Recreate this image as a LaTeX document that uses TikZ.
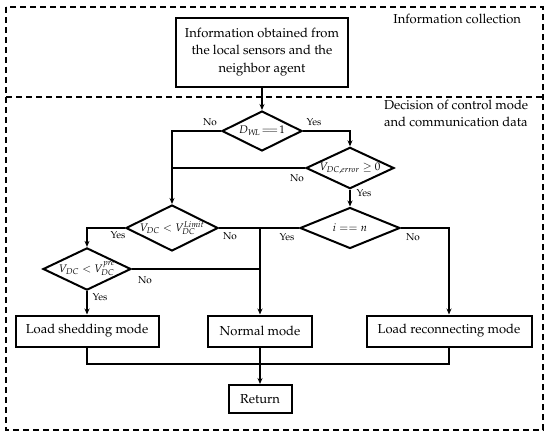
\documentclass[tikz,border=0pt]{standalone}
\usepackage[T1]{fontenc}
\usepackage{mathpazo}
\usetikzlibrary{shapes.geometric,arrows.meta}
\begin{document}
\begin{tikzpicture}[x=1pt,y=-1pt,
  line width=2pt,
  every node/.style={font=\fontsize{13}{17.5}\selectfont},
  procbox/.style={draw,line width=2pt,rectangle,inner sep=0pt,align=center},
  decide/.style={draw,line width=2pt,diamond,aspect=2,inner sep=0pt,font=\fontsize{11}{13}\selectfont},
  lbl/.style={font=\fontsize{10}{12}\selectfont,inner sep=0pt},
  arr/.style={-{Stealth[length=6pt,width=5pt]}},
  region/.style={dash pattern=on 6pt off 4pt,line width=1.6pt}]
\useasboundingbox (0,0) rectangle (550,437);
% regions
\draw[region] (6,7) rectangle (543,430);
\draw[region] (6,97) -- (543,97);
\node[anchor=north east,inner sep=0pt] (lab1) at (522,13) {Information collection};
\node[anchor=north west,inner sep=0pt,align=left] (lab2) at (383,99) {Decision of control mode\\and communication data};
% nodes
\node[procbox,minimum width=172pt,minimum height=69pt] (info) at (262,52)
  {Information obtained from\\the local sensors and the\\neighbor agent};
\node[decide,minimum width=80pt,minimum height=40pt] (dwl) at (262,131) {$D_{W\!L}\!=\!=\!1$};
\node[decide,minimum width=88pt,minimum height=38pt] (err) at (350,168) {$V_{DC,error}\geq 0$};
\node[decide,minimum width=86pt,minimum height=38pt] (lim) at (172,228) {$V_{DC}<V_{DC}^{Limit}$};
\node[decide,minimum width=88pt,minimum height=38pt] (pre) at (87,269) {$V_{DC}<V_{DC}^{pre}$};
\node[decide,minimum width=100pt,minimum height=41pt] (ieq) at (350,228) {$i==n$};
\node[procbox,minimum width=143pt,minimum height=31pt] (shed) at (87,331) {Load shedding mode};
\node[procbox,minimum width=104pt,minimum height=31pt] (norm) at (260,331) {Normal mode};
\node[procbox,minimum width=165pt,minimum height=31pt] (rec) at (449,331) {Load reconnecting mode};
\node[procbox,minimum width=63pt,minimum height=28pt] (ret) at (260,399) {Return};
% junction coordinates
\coordinate (c1) at (172,131);
\coordinate (c2) at (350,131);
\coordinate (c3) at (172,168);
\coordinate (c4) at (87,228);
\coordinate (c5) at (260,228);
\coordinate (c6) at (260,269);
\coordinate (c7) at (449,228);
\coordinate (c8) at (87,364);
\coordinate (c9) at (449,364);
% connectors
\draw[arr] (info.south) -- (dwl.north);
\draw[arr] (dwl.west) -- (c1) -- (lim.north);
\draw[arr] (dwl.east) -- (c2) -- (err.north);
\draw (err.west) -- (c3);
\draw[arr] (err.south) -- (ieq.north);
\draw[arr] (lim.west) -- (c4) -- (pre.north);
\draw (lim.east) -- (ieq.west);
\draw[arr] (c5) -- (norm.north);
\draw (pre.east) -- (c6);
\draw[arr] (pre.south) -- (shed.north);
\draw[arr] (ieq.east) -- (c7) -- (rec.north);
\draw (shed.south) -- (c8) -- (c9) -- (rec.south);
\draw[arr] (norm.south) -- (ret.north);
% labels
\node[lbl] (l1) at (210,122) {No};
\node[lbl] (l2) at (314,122) {Yes};
\node[lbl] (l3) at (297,178) {No};
\node[lbl] (l4) at (364,193) {Yes};
\node[lbl] (l5) at (118,235) {Yes};
\node[lbl] (l6) at (230,236) {No};
\node[lbl] (l7) at (287,237) {Yes};
\node[lbl] (l8) at (413,237) {No};
\node[lbl] (l9) at (145,280) {No};
\node[lbl] (l10) at (100,297) {Yes};
\end{tikzpicture}
\end{document}
